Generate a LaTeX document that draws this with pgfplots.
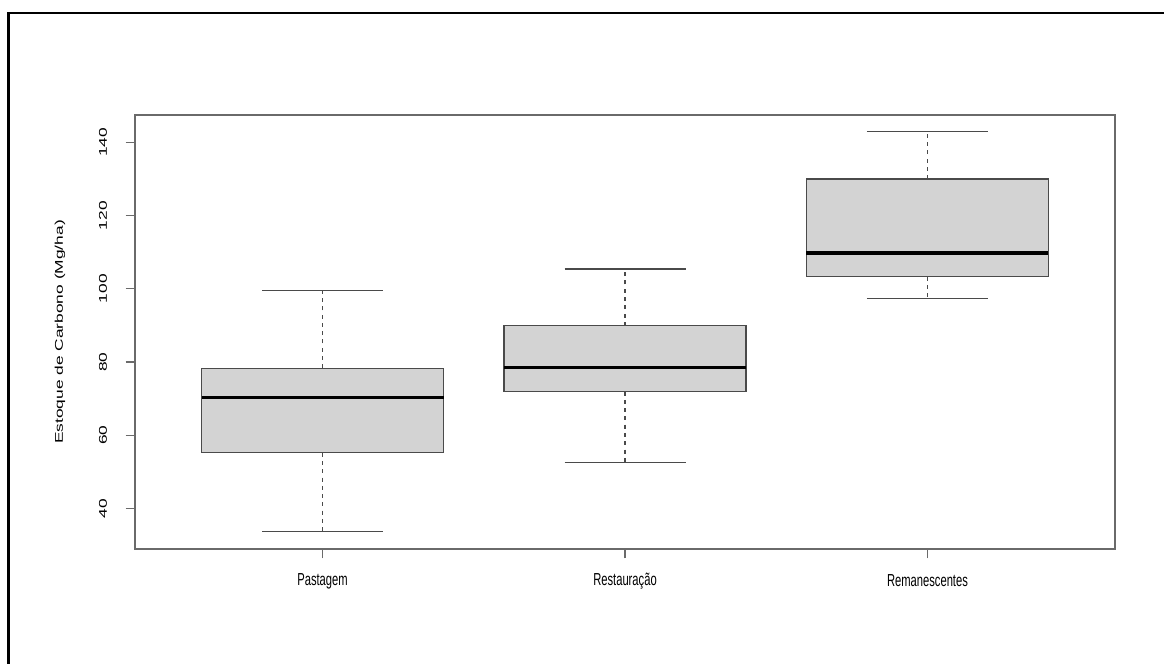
\documentclass[border=0pt]{standalone}
\usepackage{pgfplots}
\pgfplotsset{compat=1.18}
\usepackage{graphicx}
\usepackage{fontspec}
\setmainfont{Liberation Sans}

\definecolor{boxfill}{HTML}{D3D3D3}
\definecolor{axgray}{HTML}{6A6A6A}
\definecolor{linegray}{HTML}{4A4A4A}

\newcommand{\xs}[1]{\scalebox{1}[1.55]{#1}}
\newcommand{\ys}[1]{\scalebox{1.55}[1]{#1}}

\pgfplotsset{
  rbox/.style={draw=linegray, line width=0.9pt, fill=boxfill, line join=miter},
  rmed/.style={black, line width=2.8pt},
  rwhisk/.style={linegray, line width=1pt, dash pattern=on 3pt off 3.2pt},
  rcap/.style={linegray, line width=0.9pt},
}

\begin{document}
\begin{tikzpicture}
\useasboundingbox (0pt,0pt) rectangle (873pt,498pt);
\draw[black, line width=2pt] (6.4pt,0pt) -- (6.4pt,488.25pt) -- (873pt,488.25pt);
\begin{axis}[
  at={(101.25pt,86.25pt)}, anchor=south west,
  width=735pt, height=325.5pt, scale only axis,
  xmin=0.38, xmax=3.62, ymin=28.9, ymax=147.5,
  axis line style={axgray, line width=1.3pt},
  xtick={1,2,3},
  xticklabels={\xs{Pastagem},\xs{Restaura\c{c}\~ao},\xs{Remanescentes}},
  ytick={40,60,80,100,120,140},
  yticklabels={\ys{40},\ys{60},\ys{80},\ys{100},\ys{120},\ys{140}},
  tick align=outside, major tick length=7pt,
  tick style={axgray, line width=0.9pt},
  xtick pos=left, ytick pos=left,
  font=\fontsize{8.4}{10}\selectfont,
  every tick label/.append style={text=black},
  xticklabel style={anchor=center, yshift=-17pt},
  yticklabel style={xshift=-17pt, rotate=90, anchor=center},
  ylabel={\ys{Estoque de Carbono (Mg/ha)}},
  ylabel style={at={(axis description cs:-0.0765,0.5)}, anchor=center, text=black},
]
% Pastagem: whiskers 33.6 / 99.6, quartiles 55.2 / 78.3, median 70.3
\addplot[rwhisk] coordinates {(1,78.3) (1,99.6)};
\addplot[rwhisk] coordinates {(1,55.2) (1,33.6)};
\addplot[rcap] coordinates {(0.8,99.6) (1.2,99.6)};
\addplot[rcap] coordinates {(0.8,33.6) (1.2,33.6)};
\addplot[rbox] coordinates {(0.6,55.2) (1.4,55.2) (1.4,78.3) (0.6,78.3)} -- cycle;
\addplot[rmed] coordinates {(0.6,70.3) (1.4,70.3)};
% Restauracao: whiskers 52.6 / 105.4, quartiles 71.9 / 89.9, median 78.5
\addplot[rwhisk] coordinates {(2,89.9) (2,105.4)};
\addplot[rwhisk] coordinates {(2,71.9) (2,52.6)};
\addplot[rcap] coordinates {(1.8,105.4) (2.2,105.4)};
\addplot[rcap] coordinates {(1.8,52.6) (2.2,52.6)};
\addplot[rbox] coordinates {(1.6,71.9) (2.4,71.9) (2.4,89.9) (1.6,89.9)} -- cycle;
\addplot[rmed] coordinates {(1.6,78.5) (2.4,78.5)};
% Remanescentes: whiskers 97.4 / 142.9, quartiles 103.3 / 130.0, median 109.7
\addplot[rwhisk] coordinates {(3,130.0) (3,142.9)};
\addplot[rwhisk] coordinates {(3,103.3) (3,97.4)};
\addplot[rcap] coordinates {(2.8,142.9) (3.2,142.9)};
\addplot[rcap] coordinates {(2.8,97.4) (3.2,97.4)};
\addplot[rbox] coordinates {(2.6,103.3) (3.4,103.3) (3.4,130.0) (2.6,130.0)} -- cycle;
\addplot[rmed] coordinates {(2.6,109.7) (3.4,109.7)};
\end{axis}
\end{tikzpicture}
\end{document}
